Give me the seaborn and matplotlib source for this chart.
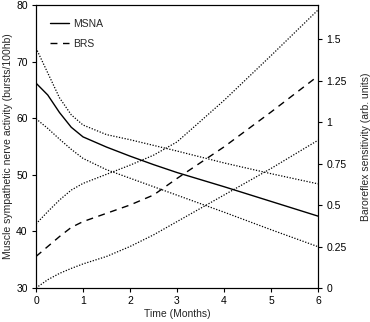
import matplotlib
matplotlib.use("Agg")
import matplotlib.pyplot as plt
import seaborn as sns
import pandas as pd

months = [0, 0.25, 0.5, 0.75, 1, 1.5, 2, 2.5, 3, 4, 5, 6]
msna = [66.2, 64.1, 61.0, 58.4, 56.7, 54.9, 53.3, 51.8, 50.4, 47.9, 45.3, 42.7]
msna_upper = [72.4, 68.0, 63.6, 60.6, 58.8, 57.1, 56.2, 55.2, 54.2, 52.1, 50.2, 48.4]
msna_lower = [59.9, 58.2, 56.3, 54.5, 52.9, 50.9, 49.4, 47.9, 46.4, 43.4, 40.3, 37.3]
brs = [0.19, 0.25, 0.31, 0.365, 0.40, 0.45, 0.50, 0.56, 0.66, 0.85, 1.06, 1.277]
brs_upper = [0.386, 0.46, 0.53, 0.59, 0.63, 0.685, 0.74, 0.80, 0.88, 1.13, 1.40, 1.675]
brs_lower = [0.0, 0.05, 0.088, 0.118, 0.145, 0.19, 0.25, 0.32, 0.40, 0.56, 0.72, 0.89]

left_ticks = [30, 40, 50, 60, 70, 80]
right_ticks = [0, 0.25, 0.5, 0.75, 1, 1.25, 1.5]
right_labels = ["0", "0.25", "0.5", "0.75", "1", "1.25", "1.5"]
x_ticks = [0, 1, 2, 3, 4, 5, 6]

sns.set_style("ticks")
plt.rcParams['font.family'] = ['Liberation Sans', 'DejaVu Sans']
plt.rcParams['font.size'] = 7.5

df = pd.DataFrame({"month": months, "msna": msna, "msna_u": msna_upper, "msna_l": msna_lower,
                   "brs": brs, "brs_u": brs_upper, "brs_l": brs_lower})

fig = plt.figure(figsize=(3.70, 3.22), dpi=100)
ax = fig.add_axes([36/370, 34/322, 282/370, 283/322])
ax2 = ax.twinx()

dot = (0, (1, 1.3))
lw = 0.9
sns.lineplot(data=df, x="month", y="msna", ax=ax, color="black", linewidth=1.0, label="MSNA", legend=False)
sns.lineplot(data=df, x="month", y="msna_u", ax=ax, color="black", linewidth=lw, linestyle=dot, legend=False)
sns.lineplot(data=df, x="month", y="msna_l", ax=ax, color="black", linewidth=lw, linestyle=dot, legend=False)
sns.lineplot(data=df, x="month", y="brs", ax=ax2, color="black", linewidth=1.0, linestyle=(0, (5, 4)), label="BRS", legend=False)
sns.lineplot(data=df, x="month", y="brs_u", ax=ax2, color="black", linewidth=lw, linestyle=dot, legend=False)
sns.lineplot(data=df, x="month", y="brs_l", ax=ax2, color="black", linewidth=lw, linestyle=dot, legend=False)

ax.set_xlim(0, 6)
ax.set_ylim(30, 80)
ax2.set_ylim(0, 1.705)
ax.set_xticks(x_ticks)
ax.set_yticks(left_ticks)
ax2.set_yticks(right_ticks)
ax2.set_yticklabels(right_labels)

ax.set_xlabel("Time (Months)", fontsize=7.5, labelpad=2)
ax.set_ylabel("Muscle sympathetic nerve activity (bursts/100hb)", fontsize=7.5, labelpad=2)
ax2.set_ylabel("Baroreflex sensitivity (arb. units)", fontsize=7.5, labelpad=10)

for a in (ax, ax2):
    a.tick_params(direction="out", length=3, width=0.8, labelsize=7.5, pad=3, colors="black")
    for s in a.spines.values():
        s.set_visible(True)
        s.set_linewidth(0.8)
        s.set_color("black")

h1, l1 = ax.get_legend_handles_labels()
h2, l2 = ax2.get_legend_handles_labels()
ax.legend(h1 + h2, l1 + l2, loc="upper left", frameon=False, fontsize=7.5,
          handlelength=1.9, handletextpad=0.4, bbox_to_anchor=(0.015, 0.985), labelspacing=0.95)

fig.savefig("out.png", dpi=100)
